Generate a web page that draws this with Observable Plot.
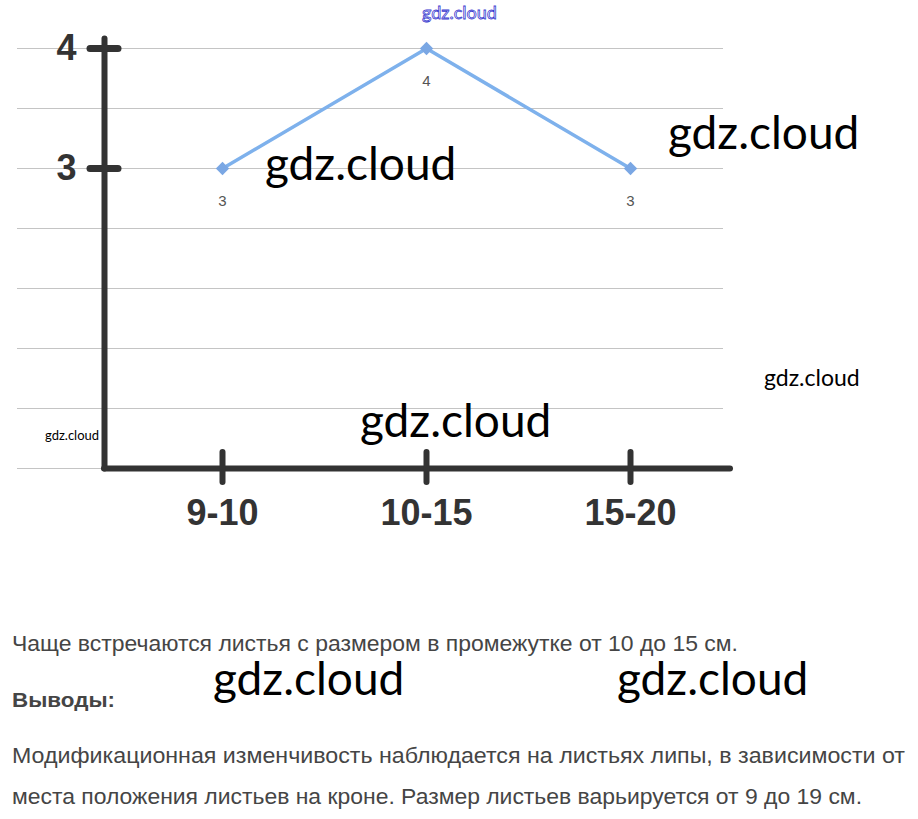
<!DOCTYPE html>
<html><head><meta charset="utf-8">
<script src="https://cdn.jsdelivr.net/npm/d3@7"></script>
<script src="https://cdn.jsdelivr.net/npm/@observablehq/plot@0.6"></script>
<style>
html,body{margin:0;padding:0;background:#fff}
body{width:918px;height:819px;overflow:hidden;position:relative;font-family:"Liberation Sans",Arial,sans-serif}
#chart{position:absolute;left:0;top:0}
.wm{position:absolute;font-family:Lato,sans-serif;color:#000;white-space:nowrap;line-height:1}
.cap{position:absolute;left:12px;color:#454545;white-space:nowrap;transform-origin:0 0;line-height:1;font-size:22px}
</style></head><body>
<div id="chart"></div>
<div class="cap" id="c1" data-w="726" style="top:633px">Чаще встречаются листья с размером в промежутке от 10 до 15 см.</div>
<div class="cap" id="c2" data-w="103" style="top:689px;font-weight:bold;font-size:21px">Выводы:</div>
<div class="cap" id="c3" data-w="893" style="top:745px">Модификационная изменчивость наблюдается на листьях липы, в зависимости от</div>
<div class="cap" id="c4" data-w="850" style="top:786px">места положения листьев на кроне. Размер листьев варьируется от 9 до 19 см.</div>
<div class="wm" style="left:422px;top:3px;font-size:18px;color:#fff;-webkit-text-stroke:0.8px #3a3ad0">gdz.cloud</div>
<div class="wm" style="left:265px;top:140px;font-size:46px">gdz.cloud</div>
<div class="wm" style="left:668px;top:109px;font-size:46px">gdz.cloud</div>
<div class="wm" style="left:764px;top:366px;font-size:23px">gdz.cloud</div>
<div class="wm" style="left:360px;top:397px;font-size:46px">gdz.cloud</div>
<div class="wm" style="left:45px;top:429px;font-size:13px">gdz.cloud</div>
<div class="wm" style="left:213px;top:655px;font-size:46px">gdz.cloud</div>
<div class="wm" style="left:617px;top:655px;font-size:46px">gdz.cloud</div>
<script>
const categories = ["9-10", "10-15", "15-20"];
const counts = [3, 4, 3];
const yTicks = [3, 4];
const gridValues = [0.5, 1, 1.5, 2, 2.5, 3, 3.5, 4];

const data = categories.map((c, i) => ({range: c, count: counts[i]}));

const plot = Plot.plot({
  width: 918, height: 560,
  marginLeft: 104, marginRight: 188, marginTop: 38, marginBottom: 92,
  style: {fontFamily: "'Liberation Sans', Arial, sans-serif", background: "transparent"},
  x: {type: "point", domain: categories, range: [221, 630], padding: 0},
  y: {domain: [0.5, 4], range: [468, 48]},
  marks: [
    Plot.ruleY(gridValues, {stroke: "#c4c4c4", strokeWidth: 1, insetLeft: -87, insetRight: 7}),
    Plot.frame({anchor: "left", stroke: "#333", strokeWidth: 6, strokeLinecap: "round"}),
    Plot.ruleY([0.5], {stroke: "#333", strokeWidth: 6, strokeLinecap: "round"}),
    Plot.ruleY(yTicks, {stroke: "#333", strokeWidth: 7, strokeLinecap: "round", insetLeft: -14, insetRight: 612}),
    Plot.ruleX(categories, {x: d => d, stroke: "#333", strokeWidth: 6, strokeLinecap: "round", insetTop: 414, insetBottom: -14}),
    Plot.axisY({ticks: yTicks, tickFormat: "d", tickSize: 0, tickPadding: 28, fontSize: 36, fontWeight: "bold", fill: "#333", label: null}),
    Plot.axisX({tickSize: 0, tickPadding: 31, fontSize: 36, fontWeight: "bold", fill: "#333", label: null}),
    Plot.line(data, {x: "range", y: "count", stroke: "#7eb1ec", strokeWidth: 3.5}),
    Plot.dot(data, {x: "range", y: "count", symbol: "diamond2", r: 6, fill: "#7aa7e4"}),
    Plot.text(data, {x: "range", y: "count", text: "count", dy: 33, fontSize: 15, fill: "#555"})
  ]
});
document.getElementById("chart").appendChild(plot);

document.querySelectorAll(".cap").forEach(el => {
  const w = el.getBoundingClientRect().width;
  const target = +el.dataset.w;
  el.style.transform = `scaleX(${target / w})`;
});
</script>
</body></html>
